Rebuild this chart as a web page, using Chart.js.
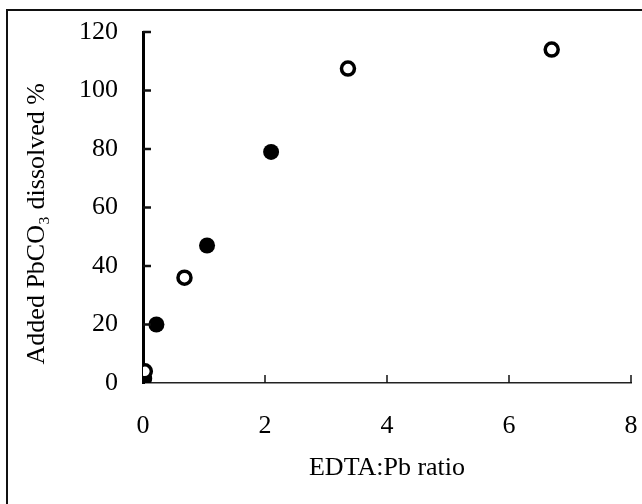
<!DOCTYPE html>
<html>
<head>
<meta charset="utf-8">
<script src="https://cdn.jsdelivr.net/npm/chart.js@4"></script>
<style>
  html, body { margin: 0; padding: 0; background: #fff; }
  #wrap { width: 642px; height: 504px; }
</style>
</head>
<body>
<div id="wrap"><canvas id="pb-chart"></canvas></div>
<script>
// EDTA:Pb ratio vs dissolved PbCO3, two series (filled / open markers)
const filledX = [0.02, 0.22, 1.05, 2.1];
const filledY = [1.5, 20, 47, 79];
const openX = [0.03, 0.68, 3.36, 6.7];
const openY = [4, 36, 107.5, 114];

const xTicks = [0, 2, 4, 6, 8];
const yTicks = [0, 20, 40, 60, 80, 100, 120];

const serif = 'Liberation Serif, Times New Roman, serif';

const toPts = (xs, ys) => xs.map((x, i) => ({ x: x, y: ys[i] }));

// frame lines + inward tick marks
const decor = {
  id: 'decor',
  afterDraw(chart) {
    const ctx = chart.ctx;
    const xs = chart.scales.x, ys = chart.scales.y;
    ctx.save();
    ctx.strokeStyle = '#111';
    ctx.lineWidth = 2;
    ctx.beginPath();
    ctx.moveTo(7, 504); ctx.lineTo(7, 10); ctx.lineTo(642, 10);
    ctx.stroke();

    const x0 = xs.getPixelForValue(0);
    ctx.lineWidth = 2.5;
    yTicks.slice(1).forEach(v => {
      const py = ys.getPixelForValue(v);
      ctx.beginPath(); ctx.moveTo(x0, py); ctx.lineTo(x0 + 8, py); ctx.stroke();
    });
    const y0 = ys.getPixelForValue(0);
    ctx.lineWidth = 1.5;
    xTicks.slice(1).forEach(v => {
      const px = xs.getPixelForValue(v);
      ctx.beginPath(); ctx.moveTo(px, y0); ctx.lineTo(px, y0 - 8); ctx.stroke();
    });
    ctx.restore();
  }
};

new Chart(document.getElementById('pb-chart'), {
  type: 'scatter',
  data: {
    datasets: [
      {
        label: 'open',
        data: toPts(openX, openY),
        pointStyle: 'circle',
        pointRadius: 6.5,
        pointBackgroundColor: '#fff',
        pointBorderColor: '#000',
        pointBorderWidth: 3.5,
        order: 0
      },
      {
        label: 'filled',
        data: toPts(filledX, filledY),
        pointStyle: 'circle',
        pointRadius: 8,
        pointBackgroundColor: '#000',
        pointBorderColor: '#000',
        pointBorderWidth: 0,
        order: 1
      }
    ]
  },
  options: {
    responsive: true,
    maintainAspectRatio: false,
    animation: false,
    events: [],
    layout: { padding: { top: 32, right: 11, left: 0, bottom: 0 } },
    plugins: {
      legend: { display: false },
      tooltip: { enabled: false }
    },
    scales: {
      x: {
        type: 'linear',
        min: 0,
        max: 8,
        afterBuildTicks: s => { s.ticks = xTicks.map(v => ({ value: v })); },
        afterFit: s => { s.height = 121; s.paddingLeft = 0; s.paddingRight = 0; },
        grid: { display: true, drawOnChartArea: false, drawTicks: false },
        border: { display: true, color: '#222', width: 1.5 },
        ticks: {
          color: '#000',
          padding: 28,
          font: { family: serif, size: 26 }
        },
        title: {
          display: true,
          text: 'EDTA:Pb ratio',
          color: '#000',
          font: { family: serif, size: 26 },
          padding: { top: 0, bottom: 20 }
        }
      },
      y: {
        type: 'linear',
        min: 0,
        max: 120,
        afterBuildTicks: s => { s.ticks = yTicks.map(v => ({ value: v })); },
        afterFit: s => { s.width = 143; s.paddingTop = 0; s.paddingBottom = 0; },
        grid: { display: true, drawOnChartArea: false, drawTicks: false },
        border: { display: true, color: '#000', width: 3 },
        ticks: {
          color: '#000',
          padding: 25,
          font: { family: serif, size: 26 }
        },
        title: {
          display: true,
          // trailing spaces nudge the rotated title toward the bottom
          text: 'Added PbCO\u2083 dissolved %\u00a0\u00a0\u00a0\u00a0\u00a0',
          color: '#000',
          font: { family: serif, size: 26 },
          padding: { top: 22, bottom: 0 }
        }
      }
    }
  },
  plugins: [decor]
});
</script>
</body>
</html>
